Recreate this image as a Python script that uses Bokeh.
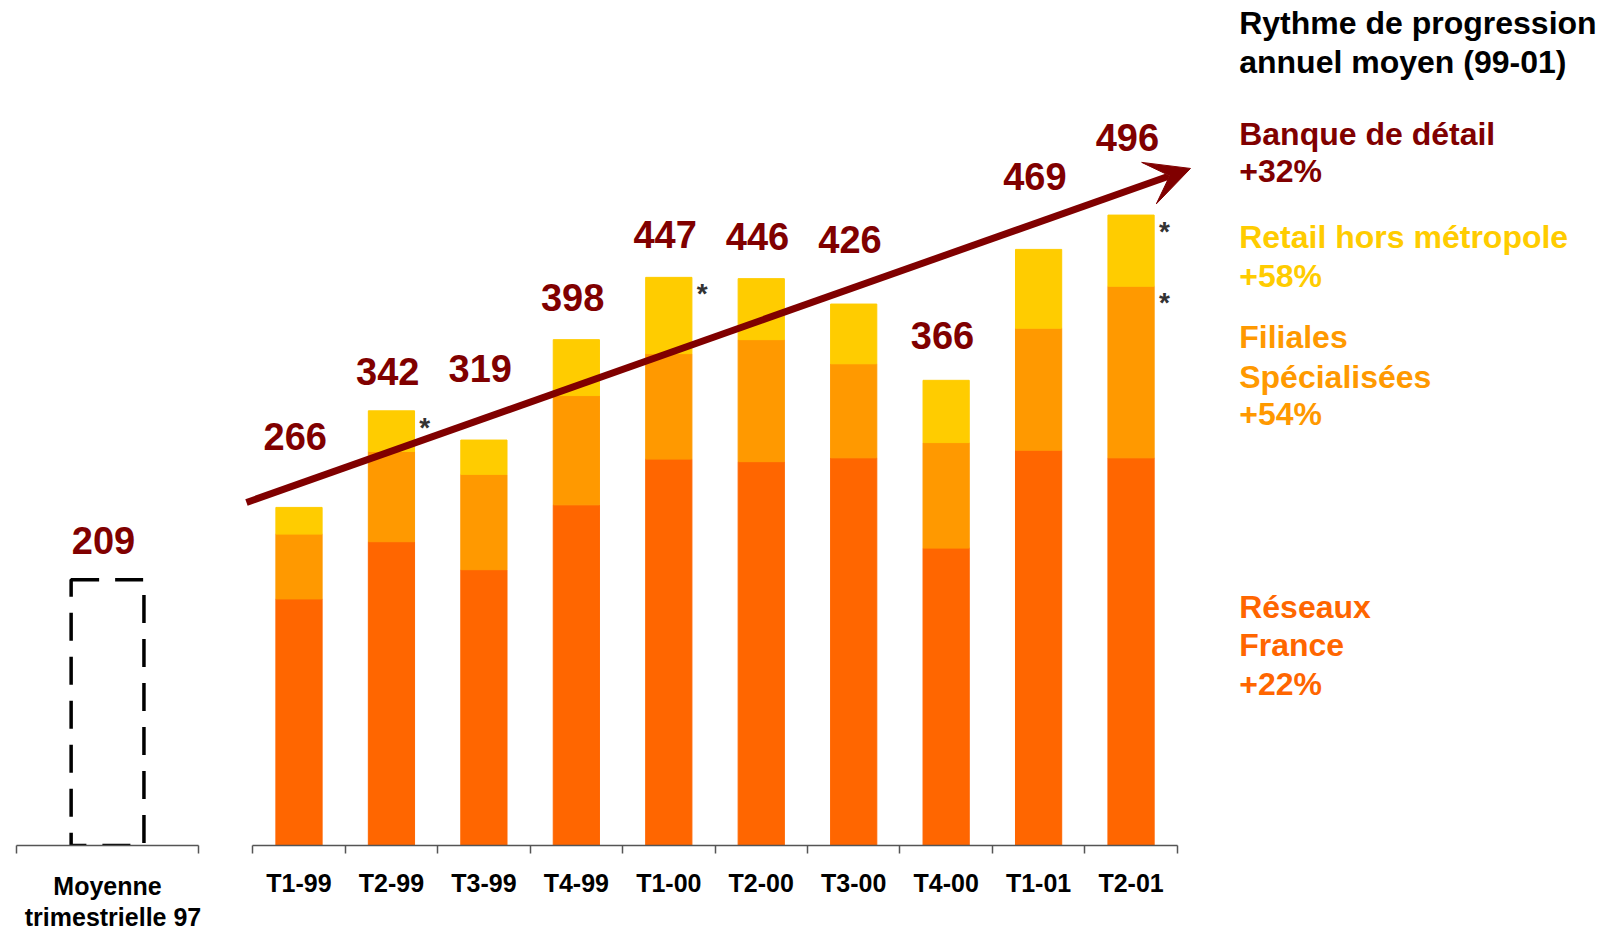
from bokeh.plotting import figure
from bokeh.models import Range1d, FixedTicker, ColumnDataSource, Arrow, VeeHead
from bokeh.layouts import row
from bokeh.embed import file_html
from bokeh.resources import INLINE
from bokeh.core.properties import value

# ---------------- data ----------------
categories = ["T1-99", "T2-99", "T3-99", "T4-99", "T1-00",
              "T2-00", "T3-00", "T4-00", "T1-01", "T2-01"]
reseaux_france = [194, 239, 217, 268, 304, 302, 305, 234, 311, 305]
filiales_specialisees = [51, 71, 75, 86, 83, 96, 74, 83, 96, 135]
retail_hors_metropole = [21, 32, 27, 44, 60, 48, 47, 49, 62, 56]
totals = [266, 342, 319, 398, 447, 446, 426, 366, 469, 496]

average_label = ["Moyenne", "trimestrielle 97"]
average_97 = 209

# bars that carry an asterisk: (category, segment)
starred = [("T2-99", "retail"), ("T1-00", "retail"),
           ("T2-01", "retail"), ("T2-01", "filiales")]

legend_title = ["Rythme de progression", "annuel moyen (99-01)"]
legend_lines = [
    ["Banque de détail", "+32%"],
    ["Retail hors métropole", "+58%"],
    ["Filiales", "Spécialisées", "+54%"],
    ["Réseaux", "France", "+22%"],
]

# ---------------- styles / layout ----------------
DARK = "#800000"
C_RESEAUX = "#FF6600"
C_FILIALES = "#FF9900"
C_RETAIL = "#FFCC00"
legend_colors = [DARK, C_RETAIL, C_FILIALES, C_RESEAUX]
FONT = "Liberation Sans"
AXIS_COL = "#555555"

label_gap = [56, 31, 56, 33, 34, 33, 51, 35, 57, 61]   # value units above bar top
label_dx = -0.04
avg_gap = 31
avg_dx = -0.022
title_y = [647, 616.7]
legend_y = [[560, 531], [478.5, 448.2], [400, 369, 339.5], [188, 158, 127]]
LEGEND_X = 10.17

H = 933
BOTTOM = 88
FRAME_H = H - BOTTOM
PX_PER_UNIT = 1.271
YMAX = FRAME_H / PX_PER_UNIT


def base_fig(width, xr):
    p = figure(width=width, height=H, x_range=xr, y_range=Range1d(0, YMAX),
               output_backend="svg", toolbar_location=None, y_axis_location=None,
               min_border_left=0, min_border_right=0, min_border_top=0,
               min_border_bottom=BOTTOM)
    p.outline_line_color = None
    p.xgrid.visible = False
    p.ygrid.visible = False
    p.background_fill_color = "white"
    p.border_fill_color = "white"
    ax = p.xaxis[0]
    ax.axis_line_color = AXIS_COL
    ax.axis_line_width = 1.5
    ax.major_tick_out = 0
    ax.major_tick_in = 0
    ax.minor_tick_out = 8
    ax.minor_tick_in = 0
    ax.minor_tick_line_color = AXIS_COL
    ax.minor_tick_line_width = 1.5
    ax.major_label_text_font = FONT
    ax.major_label_text_font_size = "25px"
    ax.major_label_text_font_style = "bold"
    ax.major_label_text_color = "black"
    ax.major_label_orientation = "horizontal"
    return p


# ---------------- left figure: average 97 ----------------
pl = base_fig(225, Range1d(-0.588, 0.648))
lax = pl.xaxis[0]
lax.ticker = FixedTicker(ticks=[0], minor_ticks=[-0.5, 0.5])
lax.bounds = (-0.5, 0.5)
lax.major_label_overrides = {0: average_label[0]}
lax.major_label_standoff = 18
lax.axis_label = average_label[1]
lax.axis_label_standoff = 0
lax.axis_label_text_font = FONT
lax.axis_label_text_font_size = "25px"
lax.axis_label_text_font_style = "bold"
lax.axis_label_text_color = "black"

pl.quad(left=[-0.2], right=[0.2], bottom=[0], top=[average_97],
        fill_color=None, line_color="black", line_width=3.5, line_dash="28 16")
pl.text(x=[avg_dx], y=[average_97 + avg_gap], text=[str(average_97)],
        text_font=value(FONT), text_font_size="38px", text_font_style="bold",
        text_color=DARK, text_align="center", text_baseline="alphabetic")

# ---------------- main figure ----------------
pm = base_fig(1380, Range1d(-0.795, 14.132))
xs = list(range(len(categories)))
src = ColumnDataSource(dict(x=xs, reseaux=reseaux_france,
                            filiales=filiales_specialisees,
                            retail=retail_hors_metropole))
pm.vbar_stack(["reseaux", "filiales", "retail"], x="x", width=0.5,
              color=[C_RESEAUX, C_FILIALES, C_RETAIL], source=src)

max_ = pm.xaxis[0]
max_.ticker = FixedTicker(ticks=xs, minor_ticks=[i - 0.5 for i in range(len(categories) + 1)])
max_.bounds = (-0.5, len(categories) - 0.5)
max_.major_label_overrides = {i: c for i, c in enumerate(categories)}
max_.major_label_standoff = 15

# total labels
lab_src = ColumnDataSource(dict(x=[x + label_dx for x in xs],
                                y=[t + g for t, g in zip(totals, label_gap)],
                                text=[str(t) for t in totals]))
pm.text(x="x", y="y", text="text", source=lab_src,
        text_font=value(FONT), text_font_size="38px", text_font_style="bold",
        text_color=DARK, text_align="center", text_baseline="alphabetic")

# asterisks
sx, sy = [], []
for cat, seg in starred:
    i = categories.index(cat)
    top = totals[i] if seg == "retail" else reseaux_france[i] + filiales_specialisees[i]
    sx.append(i + 0.36)
    sy.append(top - 13)
pm.text(x=sx, y=sy, text=["*"] * len(sx), text_font=value(FONT),
        text_font_size="28px", text_font_style="bold", text_color="#333333",
        text_align="center", text_baseline="middle")

# trend arrow
pm.add_layout(Arrow(end=VeeHead(size=44, fill_color=DARK, line_color=DARK),
                    x_start=-0.568, y_start=269.9, x_end=9.643, y_end=532.7,
                    line_color=DARK, line_width=7))

# legend texts
tx, ty, tt, tc = [], [], [], []
for line, yy in zip(legend_title, title_y):
    tx.append(LEGEND_X); ty.append(yy); tt.append(line); tc.append("black")
for lines, ys, col in zip(legend_lines, legend_y, legend_colors):
    for line, yy in zip(lines, ys):
        tx.append(LEGEND_X); ty.append(yy); tt.append(line); tc.append(col)
leg_src = ColumnDataSource(dict(x=tx, y=ty, text=tt, color=tc))
pm.text(x="x", y="y", text="text", text_color="color", source=leg_src,
        text_font=value(FONT), text_font_size="32px", text_font_style="bold",
        text_align="left", text_baseline="alphabetic")

layout = row(pl, pm)
open("out.html", "w").write(file_html(layout, INLINE))
